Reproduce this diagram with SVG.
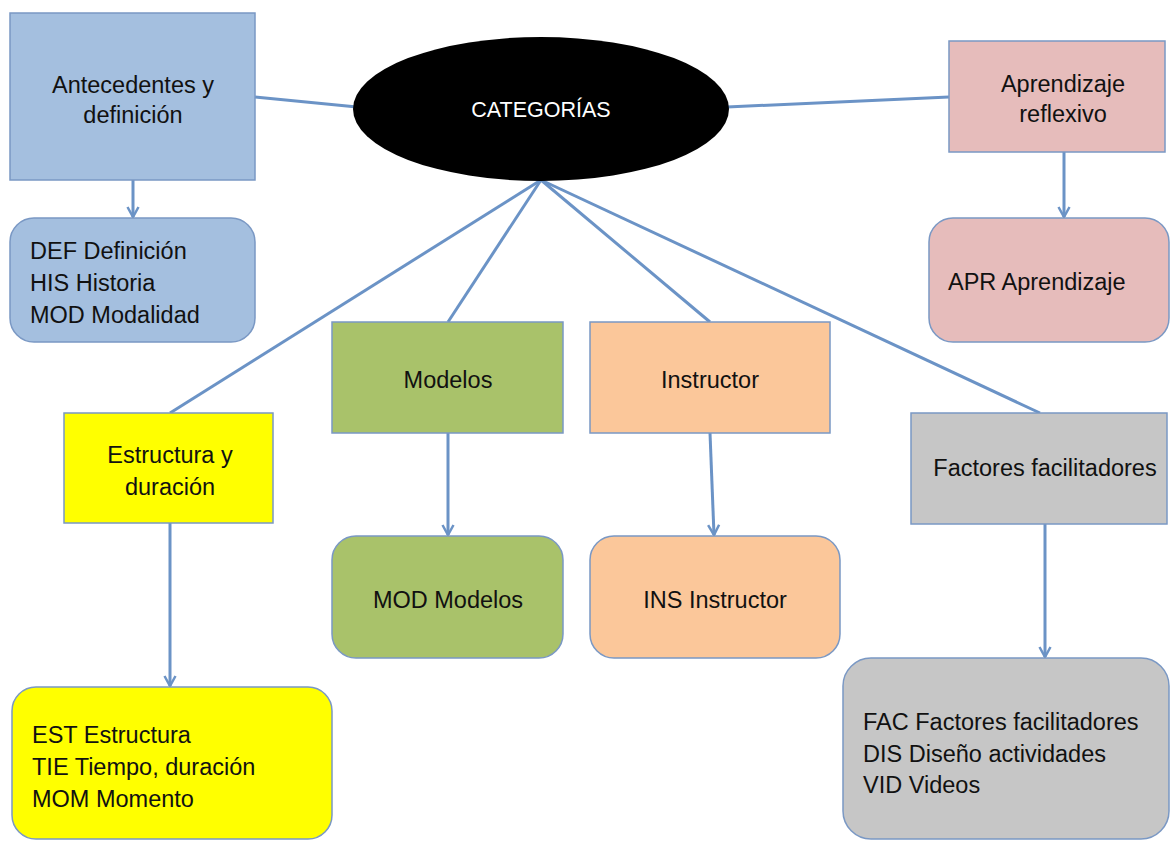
<svg xmlns="http://www.w3.org/2000/svg" width="1173" height="841" viewBox="0 0 1173 841">
<defs>
<style>
.t{font-family:"Liberation Sans",Arial,sans-serif;font-size:23.5px;fill:#111}
.c{text-anchor:middle}
.n{stroke:#7a98c4;stroke-width:1.5}
.ln{stroke:#6b93c6;stroke-width:3;fill:none}
</style>
<marker id="ah" viewBox="0 0 14 14" refX="12" refY="7" markerWidth="14" markerHeight="14" orient="auto" markerUnits="userSpaceOnUse">
<path d="M2,1.5 L12,7 L2,12.5" fill="none" stroke="#6b93c6" stroke-width="2.5"/>
</marker>
</defs>
<rect width="1173" height="841" fill="#fff"/>
<g id="connectors">
<line class="ln" x1="255" y1="97" x2="357" y2="107"/>
<line class="ln" x1="727" y1="107" x2="949" y2="97"/>
<line class="ln" x1="541" y1="180" x2="170" y2="413"/>
<line class="ln" x1="541" y1="180" x2="448" y2="322"/>
<line class="ln" x1="541" y1="180" x2="710" y2="322"/>
<line class="ln" x1="541" y1="180" x2="1040" y2="413"/>
<path class="ln" d="M133,180 V217" marker-end="url(#ah)"/>
<path class="ln" d="M1064,152 V217" marker-end="url(#ah)"/>
<path class="ln" d="M170,523 V686" marker-end="url(#ah)"/>
<path class="ln" d="M448,433 V535" marker-end="url(#ah)"/>
<path class="ln" d="M710,433 L714,535" marker-end="url(#ah)"/>
<path class="ln" d="M1045,524 V657" marker-end="url(#ah)"/>
</g>
<g id="categorias">
<ellipse cx="541" cy="109" rx="188" ry="72" fill="#000"/>
<text class="t c" x="541" y="117" style="fill:#fff;font-size:21.5px">CATEGORÍAS</text>
</g>
<g id="antecedentes">
<rect class="n" x="10" y="13" width="245" height="167" fill="#a4bfdf"/>
<text class="t c" x="133" y="93">Antecedentes y</text>
<text class="t c" x="133" y="123">definición</text>
</g>
<g id="def">
<rect class="n" x="10" y="218" width="245" height="124" rx="24" fill="#a4bfdf"/>
<text class="t" x="30" y="259">DEF Definición</text>
<text class="t" x="30" y="291">HIS Historia</text>
<text class="t" x="30" y="323">MOD Modalidad</text>
</g>
<g id="aprendizaje">
<rect class="n" x="949" y="41" width="216" height="111" fill="#e6bcbb"/>
<text class="t c" x="1063" y="92">Aprendizaje</text>
<text class="t c" x="1063" y="122">reflexivo</text>
</g>
<g id="apr">
<rect class="n" x="929" y="218" width="240" height="124" rx="24" fill="#e6bcbb"/>
<text class="t" x="948" y="290">APR Aprendizaje</text>
</g>
<g id="estructura">
<rect class="n" x="64" y="413" width="209" height="110" fill="#ffff00"/>
<text class="t c" x="170" y="463">Estructura y</text>
<text class="t c" x="170" y="495">duración</text>
</g>
<g id="est">
<rect class="n" x="12" y="687" width="320" height="152" rx="24" fill="#ffff00"/>
<text class="t" x="32" y="743">EST Estructura</text>
<text class="t" x="32" y="775">TIE Tiempo, duración</text>
<text class="t" x="32" y="807">MOM Momento</text>
</g>
<g id="modelos">
<rect class="n" x="332" y="322" width="231" height="111" fill="#a9c26a"/>
<text class="t c" x="448" y="388">Modelos</text>
</g>
<g id="mod">
<rect class="n" x="332" y="536" width="231" height="122" rx="24" fill="#a9c26a"/>
<text class="t c" x="448" y="608">MOD Modelos</text>
</g>
<g id="instructor">
<rect class="n" x="590" y="322" width="240" height="111" fill="#fbc79a"/>
<text class="t c" x="710" y="388">Instructor</text>
</g>
<g id="ins">
<rect class="n" x="590" y="536" width="250" height="122" rx="24" fill="#fbc79a"/>
<text class="t c" x="715" y="608">INS Instructor</text>
</g>
<g id="factores">
<rect class="n" x="911" y="413" width="256" height="111" fill="#c6c6c6"/>
<text class="t c" x="1045" y="476">Factores facilitadores</text>
</g>
<g id="fac">
<rect class="n" x="843" y="658" width="326" height="181" rx="28" fill="#c6c6c6"/>
<text class="t" x="863" y="730">FAC Factores facilitadores</text>
<text class="t" x="863" y="762">DIS Diseño actividades</text>
<text class="t" x="863" y="793">VID Videos</text>
</g>
</svg>
